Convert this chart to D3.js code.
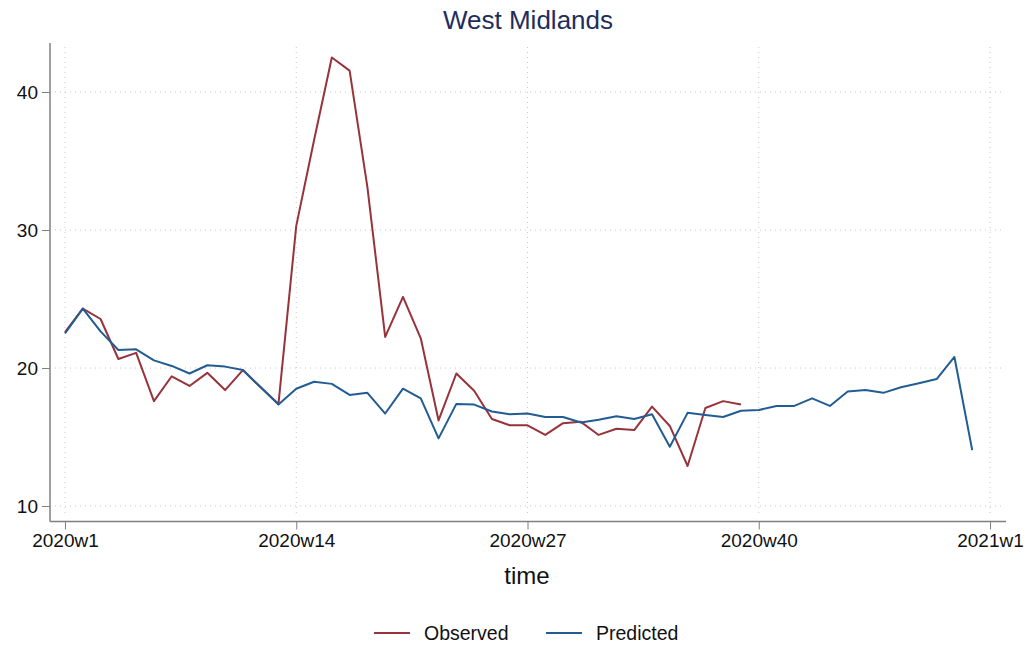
<!DOCTYPE html>
<html><head><meta charset="utf-8">
<script src="https://cdn.jsdelivr.net/npm/d3@7"></script>
<style>body{margin:0;background:#fff}svg{display:block;font-family:"Liberation Sans",Arial,sans-serif}</style>
</head><body><svg id="c" width="1033" height="648"></svg>
<script>
const title = "West Midlands";
const xTickWeeks = [1, 14, 27, 40, 53];
const xTickLabels = ["2020w1", "2020w14", "2020w27", "2020w40", "2021w1"];
const yTicks = [10, 20, 30, 40];
const observedWeeks = d3.range(1, 40);
const observed = [22.6, 24.3, 23.55, 20.65, 21.1, 17.6, 19.4, 18.7, 19.65, 18.4,
  19.85, 18.6, 17.4, 30.3, 36.5, 42.5, 41.55, 33.1, 22.25, 25.15,
  22.15, 16.2, 19.6, 18.35, 16.3, 15.85, 15.85, 15.15, 16.0, 16.1,
  15.15, 15.6, 15.5, 17.2, 15.8, 12.9, 17.1, 17.6, 17.35];
const predictedWeeks = d3.range(1, 53);
const predicted = [22.5, 24.3, 22.65, 21.3, 21.35, 20.55, 20.15, 19.6, 20.2, 20.1,
  19.85, 18.6, 17.35, 18.5, 19.0, 18.85, 18.05, 18.2, 16.7, 18.5,
  17.8, 14.9, 17.4, 17.35, 16.85, 16.65, 16.7, 16.45, 16.45, 16.05,
  16.25, 16.5, 16.3, 16.65, 14.3, 16.75, 16.6, 16.45, 16.9, 16.95,
  17.25, 17.25, 17.8, 17.25, 18.3, 18.4, 18.2, 18.6, 18.9, 19.2,
  20.8, 14.05];
const seriesNames = ["Observed", "Predicted"];
const seriesColors = ["#96333b", "#215d93"];

(function () {
const svg = d3.select("#c");
const x = d3.scaleLinear().domain([1, 53]).range([65, 990]);
const y = d3.scaleLinear().domain([10, 40]).range([506, 92]);
const axLeft = 50, axBottom = 521.5, axTop = 43, axRight = 1006;

// grid
const grid = svg.append("g").attr("stroke", "#c8c8c8").attr("stroke-width", 1).attr("stroke-dasharray", "1,4");
grid.selectAll("line.h").data(yTicks).join("line").attr("class", "h")
  .attr("x1", 55).attr("x2", 1003).attr("y1", d => y(d)).attr("y2", d => y(d));
grid.selectAll("line.v").data(xTickWeeks).join("line").attr("class", "v")
  .attr("x1", d => x(d)).attr("x2", d => x(d)).attr("y1", 47).attr("y2", 516);

// axes
const yAxis = d3.axisLeft(y).tickValues(yTicks).tickSize(8).tickPadding(4).tickFormat(d3.format("d"));
const gy = svg.append("g").attr("transform", `translate(${axLeft},0)`).call(yAxis);
gy.select(".domain").remove();
gy.append("line").attr("x1", 0).attr("x2", 0).attr("y1", axTop).attr("y2", axBottom).attr("stroke", "#808080").attr("stroke-width", 1.5);
gy.selectAll(".tick line").attr("stroke", "#808080");
gy.selectAll(".tick text").attr("font-size", 19).attr("fill", "#111");

const xAxis = d3.axisBottom(x).tickValues(xTickWeeks).tickSize(8).tickPadding(4)
  .tickFormat((d, i) => xTickLabels[i]);
const gx = svg.append("g").attr("transform", `translate(0,${axBottom})`).call(xAxis);
gx.select(".domain").remove();
gx.append("line").attr("x1", axLeft).attr("x2", axRight).attr("y1", 0).attr("y2", 0).attr("stroke", "#808080").attr("stroke-width", 1.5);
gx.selectAll(".tick line").attr("stroke", "#808080");
gx.selectAll(".tick text").attr("font-size", 19).attr("fill", "#111");

// lines
const line = d3.line().x(d => x(d[0])).y(d => y(d[1]));
svg.append("path").datum(observedWeeks.map((w, i) => [w, observed[i]]))
  .attr("d", line).attr("fill", "none").attr("stroke", seriesColors[0]).attr("stroke-width", 2).attr("stroke-linejoin", "round");
svg.append("path").datum(predictedWeeks.map((w, i) => [w, predicted[i]]))
  .attr("d", line).attr("fill", "none").attr("stroke", seriesColors[1]).attr("stroke-width", 2).attr("stroke-linejoin", "round");

// title & labels
svg.append("text").attr("x", 528).attr("y", 29).attr("text-anchor", "middle")
  .attr("font-size", 26).attr("fill", "#1e2d5c").text(title);
svg.append("text").attr("x", 527).attr("y", 584).attr("text-anchor", "middle")
  .attr("font-size", 24).attr("fill", "#111").text("time");

// legend
const legX = [374, 546];
const lg = svg.append("g");
seriesNames.forEach((n, i) => {
  lg.append("line").attr("x1", legX[i]).attr("x2", legX[i] + 36).attr("y1", 633).attr("y2", 633)
    .attr("stroke", seriesColors[i]).attr("stroke-width", 2);
  lg.append("text").attr("x", legX[i] + 50).attr("y", 640).attr("font-size", 19.5).attr("fill", "#111").text(n);
});
})();
</script></body></html>
